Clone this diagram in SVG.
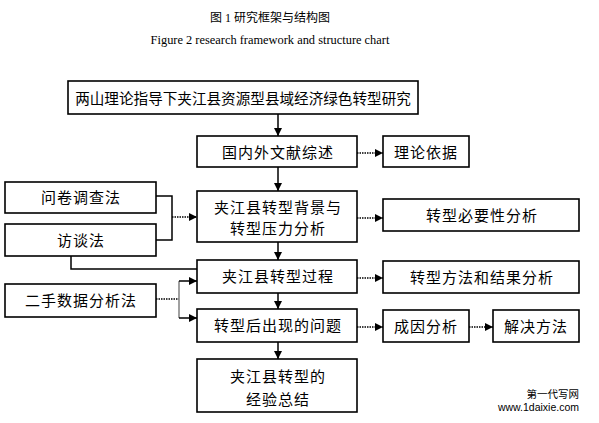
<svg xmlns="http://www.w3.org/2000/svg" width="599" height="423" viewBox="0 0 599 423">
<style>
.bg{fill:#fff}
.box{fill:#fff;stroke:#000;stroke-width:1.6}
.t{font-family:"Liberation Serif","Noto Sans CJK SC",serif;font-size:15px;letter-spacing:1px;fill:#000;text-anchor:middle}
.tt{font-family:"Liberation Serif","Noto Sans CJK SC",serif;font-size:14.6px;fill:#000;text-anchor:middle}
.cap{font-family:"Liberation Serif","Noto Sans CJK SC",serif;fill:#000;text-anchor:middle}
.wm{font-family:"Liberation Sans","Noto Sans CJK SC",sans-serif;font-size:10.5px;fill:#000;text-anchor:end}
.ln{fill:none;stroke:#000;stroke-width:1.5}
.dot{fill:none;stroke:#000;stroke-width:1.5;stroke-dasharray:1.5 1}
.gray{fill:none;stroke:#808080;stroke-width:1.5}
</style>
<defs>
<marker id="ah" markerUnits="userSpaceOnUse" markerWidth="8" markerHeight="8" refX="8" refY="4" orient="auto">
<path d="M0,0 L8,4 L0,8 z" fill="#000"/>
</marker>
</defs>
<rect class="bg" x="0" y="0" width="599" height="423"/>
<text class="cap" x="270" y="22" font-size="12">图 1 研究框架与结构图</text>
<text class="cap" x="270" y="44" font-size="12.4">Figure 2 research framework and structure chart</text>

<g id="connectors">
<line class="ln" x1="278" y1="114" x2="278" y2="136" marker-end="url(#ah)"/>
<line class="ln" x1="278" y1="167" x2="278" y2="191" marker-end="url(#ah)"/>
<line class="ln" x1="278" y1="242" x2="278" y2="260" marker-end="url(#ah)"/>
<line class="ln" x1="278" y1="293" x2="278" y2="309" marker-end="url(#ah)"/>
<line class="ln" x1="278" y1="342" x2="278" y2="359" marker-end="url(#ah)"/>
<line class="dot" x1="357" y1="153" x2="383" y2="153" marker-end="url(#ah)"/>
<line class="dot" x1="357" y1="218" x2="383" y2="218" marker-end="url(#ah)"/>
<line class="dot" x1="357" y1="278" x2="383" y2="278" marker-end="url(#ah)"/>
<line class="dot" x1="357" y1="327" x2="383" y2="327" marker-end="url(#ah)"/>
<line class="dot" x1="469" y1="327" x2="493" y2="327" marker-end="url(#ah)"/>
<polyline class="ln" points="156,196 172,196 172,240 156,240"/>
<line class="dot" x1="172" y1="217" x2="197" y2="217" marker-end="url(#ah)"/>
<polyline class="ln" points="71,256 71,269 197,269"/>
<line class="dot" x1="156" y1="299" x2="179" y2="299"/>
<line class="gray" x1="179" y1="281" x2="179" y2="318"/>
<line class="ln" x1="179" y1="281" x2="197" y2="281" marker-end="url(#ah)"/>
<line class="ln" x1="179" y1="318" x2="197" y2="318" marker-end="url(#ah)"/>
</g>

<g id="n-top"><rect class="box" x="68" y="81" width="350" height="33"/><text class="tt" x="243" y="104">两山理论指导下夹江县资源型县域经济绿色转型研究</text></g>
<g id="n-lit"><rect class="box" x="197" y="136" width="160" height="31"/><text class="t" x="278" y="158">国内外文献综述</text></g>
<g id="n-theory"><rect class="box" x="383" y="136" width="86" height="31"/><text class="t" x="426" y="158">理论依据</text></g>
<g id="n-bg"><rect class="box" x="197" y="191" width="160" height="51"/><text class="t" x="278" y="213">夹江县转型背景与</text><text class="t" x="278" y="234">转型压力分析</text></g>
<g id="n-need"><rect class="box" x="383" y="199" width="196" height="32"/><text class="t" x="482" y="221">转型必要性分析</text></g>
<g id="n-proc"><rect class="box" x="197" y="260" width="160" height="33"/><text class="t" x="278" y="282">夹江县转型过程</text></g>
<g id="n-method"><rect class="box" x="383" y="261" width="196" height="32"/><text class="t" x="482" y="283">转型方法和结果分析</text></g>
<g id="n-prob"><rect class="box" x="197" y="309" width="160" height="33"/><text class="t" x="278" y="331">转型后出现的问题</text></g>
<g id="n-cause"><rect class="box" x="383" y="310" width="86" height="32"/><text class="t" x="426" y="332">成因分析</text></g>
<g id="n-sol"><rect class="box" x="493" y="310" width="86" height="32"/><text class="t" x="536" y="332">解决方法</text></g>
<g id="n-sum"><rect class="box" x="197" y="359" width="160" height="53"/><text class="t" x="278" y="382">夹江县转型的</text><text class="t" x="278" y="405">经验总结</text></g>
<g id="n-q"><rect class="box" x="5" y="182" width="151" height="31"/><text class="t" x="81" y="203">问卷调查法</text></g>
<g id="n-i"><rect class="box" x="5" y="224" width="151" height="32"/><text class="t" x="81" y="246">访谈法</text></g>
<g id="n-d"><rect class="box" x="5" y="284" width="151" height="33"/><text class="t" x="81" y="306">二手数据分析法</text></g>

<text class="wm" x="579" y="398">第一代写网</text>
<text class="wm" x="579" y="411">www.1daixie.com</text>
</svg>
